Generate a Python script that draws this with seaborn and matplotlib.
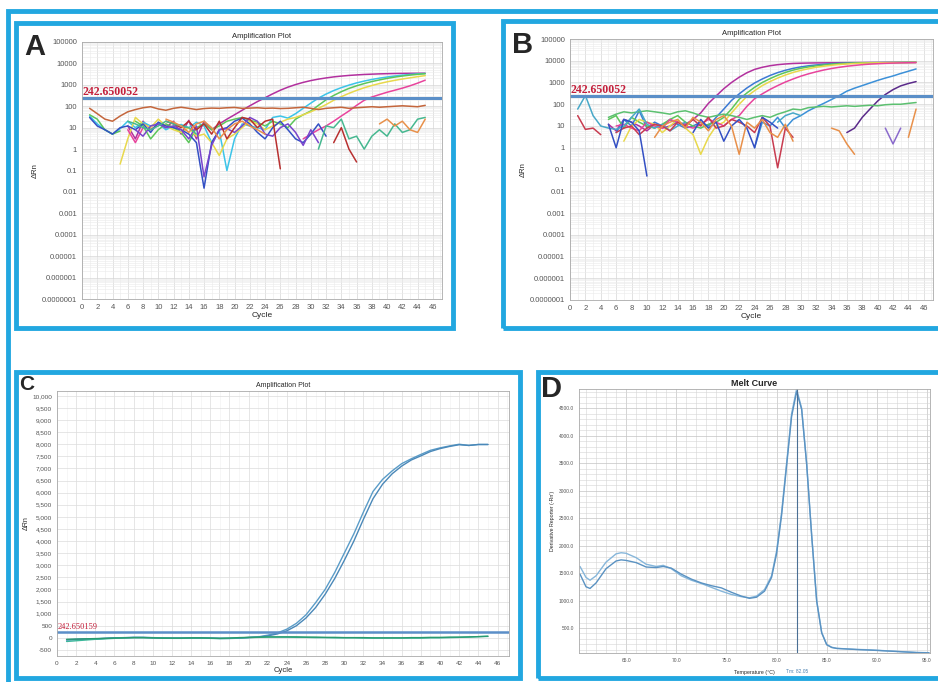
import numpy as np
import pandas as pd
import seaborn as sns
import matplotlib.pyplot as plt
from matplotlib.patches import Rectangle
from matplotlib.ticker import MultipleLocator, LogLocator, NullFormatter

nan = np.nan
W, H = 938, 682

# ---------------- data ----------------
cycles = list(range(1, 46))
x_ticks = list(range(0, 47, 2))
log_ticks = [1e-7, 1e-6, 1e-5, 1e-4, 1e-3, 1e-2, 1e-1, 1, 10, 100, 1000, 10000, 100000]
log_labels = ["0.0000001", "0.000001", "0.00001", "0.0001", "0.001", "0.01", "0.1",
              "1", "10", "100", "1000", "10000", "100000"]
threshold_ab = 242.650052
threshold_ab_label = "242.650052"
threshold_c = 242.650159
threshold_c_label = "242.650159"

# panel A, delta Rn per cycle (nan = not drawn on log axis)
A_magenta = [nan, nan, nan, nan, nan, 12, 3, 20, 8, 15, 10, 20, 5, 22, 3,
             20, 8, 15, 25, 40, 65, 105, 165, 250, 380, 560, 780, 1030, 1300, 1580,
             1850, 2100, 2350, 2560, 2750, 2900, 3050, 3150, 3250, 3320, 3380, 3420, 3450, 3470, 3480]
A_cyan = [35, 15, 8, 5, 9, 20, 10, 18, 12, 16, 8, 12, 14, 10, 18,
          12, 2, 7, 0.1, 3, 15, 12, 10, 8, 30, 35, 28, 45, 80, 140,
          240, 370, 540, 740, 970, 1230, 1500, 1780, 2050, 2320, 2580, 2820, 3050, 3250, 3400]
A_green = [40, 25, 8, 5, 7, nan, 20, 12, 3, 8, 15, 10, 6, 2, 10,
           15, 8, 12, 20, 25, 30, 22, 18, 12, 20, 15, 10, 25, 40, 60,
           110, 200, 320, 480, 680, 900, 1150, 1420, 1700, 2000, 2300, 2580, 2850, 3100, 3300]
A_yellow = [nan, nan, nan, nan, 0.2, 3, 30, 15, 10, 25, 12, 8, 6, 10, 4,
            5, 2, 0.5, 3, 5, 10, 20, 15, 8, 12, 18, 25, 30, 40, 55,
            80, 120, 190, 280, 400, 550, 730, 930, 1150, 1380, 1620, 1870, 2120, 2400, 2700]
A_pink = [nan, nan, nan, nan, nan, 8, 2, 10, nan, nan, nan, nan, nan, nan, nan,
          nan, nan, nan, nan, nan, nan, nan, nan, nan, nan, nan, nan, nan, 3, 5,
          8, 12, 20, 35, 60, 110, 190, 270, 350, 450, 560, 700, 900, 1200, 1650]
A_brown = [80, 45, 25, 20, 35, 55, 70, 85, 95, 75, 65, 80, 90, 80, 70,
           78, 82, 80, 85, 88, 80, 82, 85, 80, 82, 78, 80, 85, 90, 80,
           70, 80, 85, 90, 80, 85, 90, 95, 90, 95, 100, 105, 100, 95, 110]
A_blue = [30, 12, 8, 5, 10, 12, 8, 15, 6, 18, 12, 10, 8, 5, 2,
          0.015, 2, 8, 10, 20, 28, 15, 6, 3, 10, 20, 8, 3, 2, 5,
          15, 4, nan, nan, nan, nan, nan, nan, nan, nan, nan, nan, nan, nan, nan]
A_purple = [nan, nan, nan, nan, nan, nan, 8, 4, 12, 15, 10, 12, 8, 3, 12,
            0.05, 1.5, 8, 9, 6, 12, 30, 20, 5, 4, 10, 15, 6, 1.5, 8,
            2, nan, nan, nan, nan, nan, nan, nan, nan, nan, nan, nan, nan, nan, nan]
A_red = [nan, nan, nan, nan, nan, nan, nan, nan, nan, nan, 20, 15, 10, 20, 8,
         15, 5, 20, 3, 10, 30, 25, 10, 20, 25, 0.12, nan, nan, nan, nan,
         nan, nan, 2, 10, 1, 0.25, nan, nan, nan, nan, nan, nan, nan, nan, nan]
A_teal = [nan, nan, nan, nan, nan, 20, 15, 10, 8, 12, 20, 15, 12, 10, 5,
          nan, nan, nan, nan, nan, nan, nan, nan, nan, nan, nan, nan, nan, nan, nan,
          1, 12, 10, 25, 3, 4, 1, 4, 8, 4, 15, 6, 8, 25, 30]
A_orange = [nan, nan, nan, nan, nan, nan, nan, nan, nan, nan, 25, 18, 12, 6, 15,
            20, 10, 3, 8, 15, 20, 12, 8, 5, nan, nan, nan, nan, nan, nan,
            nan, nan, nan, nan, nan, nan, nan, nan, 15, 25, 12, 20, 8, 6, 25]

# panel B
B_magenta = [nan, nan, nan, nan, 12, 6, 20, 15, 10, 6, 12, 8, 10, 15, 12,
             20, 40, 110, 240, 520, 1000, 1750, 2800, 4000, 5000, 5900, 6600, 7100, 7500, 7700,
             7850, 7950, 8000, 8050, 8100, 8150, 8200, 8250, 8300, 8300, 8350, 8400, 8400, 8450, 8500]
B_blue = [nan, nan, nan, nan, nan, 5, 20, 10, 50, 8, 15, 10, 20, 12, 8,
          10, 15, 10, 25, 60, 150, 300, 560, 950, 1450, 2100, 2850, 3650, 4450, 5200,
          5850, 6400, 6900, 7300, 7600, 7850, 8000, 8100, 8150, 8200, 8250, 8300, 8350, 8400, 8450]
B_green = [nan, nan, nan, nan, 20, 30, 8, 25, 15, 10, 8, 12, 20, 30, 15,
           10, 8, 12, 15, 25, 60, 170, 330, 600, 1000, 1500, 2150, 2900, 3700, 4500,
           5200, 5800, 6400, 6900, 7300, 7600, 7850, 8000, 8100, 8200, 8250, 8300, 8350, 8400, 8450]
B_yellow = [nan, nan, nan, nan, nan, nan, 2, 10, 20, 15, 12, 5, 10, 20, 8,
            4, 0.5, 3, 10, 15, 40, 100, 230, 420, 720, 1100, 1600, 2200, 2900, 3600,
            4300, 5000, 5600, 6200, 6700, 7100, 7450, 7700, 7900, 8000, 8100, 8200, 8250, 8300, 8400]
B_pink = [nan, nan, nan, nan, nan, 10, 12, 8, 6, 15, 10, 8, 20, 15, 10,
          8, 12, 20, 15, 10, 20, 30, 80, 180, 300, 480, 720, 1050, 1450, 1950,
          2500, 3100, 3750, 4400, 5000, 5600, 6100, 6600, 7000, 7300, 7600, 7800, 8000, 8100, 8200]
B_late = [nan, nan, nan, nan, nan, nan, nan, nan, nan, nan, nan, nan, nan, nan, nan,
          nan, nan, nan, nan, nan, nan, nan, nan, 1, 15, 10, 25, 8, 20, 30,
          50, 75, 110, 165, 250, 400, 550, 720, 950, 1250, 1600, 2000, 2600, 3300, 4200]
B_purple = [nan, nan, nan, nan, nan, nan, nan, nan, nan, nan, nan, nan, nan, nan, nan,
            nan, nan, nan, nan, nan, nan, nan, nan, nan, nan, nan, nan, nan, nan, nan,
            nan, nan, nan, nan, nan, 5, 8, 25, 60, 140, 280, 470, 700, 900, 1100]
B_violet = [nan, nan, nan, nan, nan, nan, nan, nan, nan, nan, nan, nan, nan, nan, nan,
            nan, nan, nan, nan, nan, nan, nan, nan, nan, nan, nan, nan, nan, nan, nan,
            nan, nan, nan, nan, nan, nan, nan, nan, nan, nan, 8, 1.5, 8, nan, nan]
B_flat = [nan, nan, nan, nan, 25, 35, 45, 40, 45, 50, 45, 40, 35, 45, 50,
          40, 30, 25, 30, 35, 30, 25, 20, 25, 30, 25, 35, 45, 60, 55,
          70, 75, 80, 75, 80, 85, 80, 85, 90, 85, 95, 100, 100, 110, 120]
B_teal = [60, 250, 30, 10, 8, 7, 10, 25, 60, 12, 8, 12, 6, 10, 15,
          nan, nan, nan, nan, nan, nan, nan, nan, nan, nan, nan, 15, 30, 40, 30,
          nan, nan, nan, nan, nan, nan, nan, nan, nan, nan, nan, nan, nan, nan, nan]
B_red = [30, 7, 8, 4, nan, 5, 8, 10, 4, 8, 12, 10, 6, 15, 10,
         20, 10, 25, 8, 10, 20, 15, 10, 5, 25, 10, 0.12, 8, 3, nan,
         nan, nan, nan, nan, nan, nan, nan, nan, nan, nan, nan, nan, nan, nan, nan]
B_navy = [nan, nan, nan, nan, 12, 1, 20, 15, 6, 0.05, nan, nan, nan, nan, nan,
          5, 20, 8, 15, 2, 10, 20, 8, 1, 25, 15, 8, nan, nan, nan,
          nan, nan, nan, nan, nan, nan, nan, nan, nan, nan, nan, nan, nan, nan, nan]
B_orange = [nan, nan, nan, nan, nan, nan, nan, nan, nan, nan, 3, 10, 15, 20, 8,
            25, 15, 6, 20, 30, 10, 0.5, 15, 8, 20, 5, 3, 12, 2, nan,
            nan, nan, nan, 8, 6, 1.5, 0.5, nan, nan, nan, nan, 25, nan, 3, 60]

# panel C, linear delta Rn
c_ticks = list(range(-500, 10001, 500))
c_labels = [f"{v:,}" for v in c_ticks]
C_blue1 = [-80, -60, -50, -40, -20, 0, 10, 20, 20, 10, 0, -10, -10, -10, -5,
           -10, -20, -20, -10, 20, 40, 110, 200, 360, 600, 950, 1450, 2000, 2700, 3500,
           4300, 5200, 6050, 6550, 6900, 7200, 7400, 7580, 7750, 7850, 7930, 8000, 7950, 7990, 7990]
C_blue2 = [-90, -70, -55, -45, -25, -5, 5, 15, 15, 5, -5, -15, -15, -10, -10,
           -15, -25, -25, -15, 10, 30, 80, 160, 290, 500, 820, 1250, 1800, 2450, 3200,
           4000, 4900, 5750, 6350, 6780, 7100, 7350, 7520, 7700, 7820, 7910, 7980, 7950, 7990, 7990]
C_green1 = [-150, -120, -90, -60, -40, -20, 0, 10, 10, 0, -10, -20, -20, -10, -10,
            -20, -30, -20, 0, 10, 20, 30, 30, 30, 20, 20, 10, 10, 0, 0,
            0, -10, -10, -10, -10, -10, -10, -10, 0, 0, 10, 20, 30, 50, 70]
C_green2 = [-60, -50, -40, -30, -20, -10, 0, 10, 10, 0, -10, -10, -10, 0, 0,
            -10, -20, -10, 10, 20, 30, 40, 40, 40, 40, 30, 30, 20, 20, 10,
            10, 10, 0, 0, 0, 0, 10, 10, 20, 20, 30, 30, 40, 50, 60]

# panel D, melt curve
temps = [60.4, 61.0, 61.4, 62.0, 63.0, 64.0, 64.5, 65.0, 66.0, 67.0, 68.0, 68.7, 69.5, 70.5, 71.5,
         72.5, 73.5, 74.5, 75.5, 76.5, 77.3, 78.0, 78.8, 79.5, 80.0, 80.5, 81.0, 81.5, 82.0, 82.5,
         83.0, 83.5, 84.0, 84.5, 85.0, 85.5, 86.0, 87.0, 88.0, 89.0, 90.0, 91.0, 92.0, 93.0, 94.0, 95.2]
D_well1 = [1620, 1420, 1370, 1450, 1700, 1850, 1870, 1860, 1780, 1660, 1620, 1640, 1580, 1450, 1370,
           1310, 1240, 1170, 1110, 1070, 1050, 1080, 1200, 1450, 1900, 2600, 3500, 4400, 4850, 4500,
           3500, 2200, 1000, 420, 200, 150, 130, 120, 110, 105, 95, 85, 75, 65, 55, 50]
D_well2 = [1480, 1250, 1220, 1320, 1580, 1720, 1740, 1730, 1690, 1610, 1600, 1620, 1590, 1480, 1390,
           1320, 1270, 1230, 1150, 1080, 1040, 1060, 1170, 1420, 1850, 2550, 3450, 4350, 4800, 4480,
           3480, 2180, 990, 410, 195, 145, 128, 118, 108, 100, 92, 82, 72, 62, 52, 48]
d_xticks = [65, 70, 75, 80, 85, 90, 95]
d_xlabels = ["65.0", "70.0", "75.0", "80.0", "85.0", "90.0", "95.0"]
d_yticks = [500, 1000, 1500, 2000, 2500, 3000, 3500, 4000, 4500]
d_ylabels = ["500.0", "1000.0", "1500.0", "2000.0", "2500.0", "3000.0", "3500.0", "4000.0", "4500.0"]
tm = 82.05

A_series = {"magenta": A_magenta, "cyan": A_cyan, "green": A_green, "yellow": A_yellow,
            "pink": A_pink, "brown": A_brown, "blue": A_blue, "purple": A_purple,
            "red": A_red, "teal": A_teal, "orange": A_orange}
B_series = {"magenta": B_magenta, "blue": B_blue, "green": B_green, "yellow": B_yellow,
            "pink": B_pink, "late": B_late, "purple": B_purple, "violet": B_violet,
            "flat": B_flat, "teal": B_teal, "red": B_red, "navy": B_navy, "orange": B_orange}
C_series = {"blue1": C_blue1, "blue2": C_blue2, "green1": C_green1, "green2": C_green2}
D_series = {"well1": D_well1, "well2": D_well2}

for d, xs in [(A_series, cycles), (B_series, cycles), (C_series, cycles), (D_series, temps)]:
    for k, v in d.items():
        assert len(v) == len(xs), (k, len(v))

# ---------------- style ----------------
A_colors = {"magenta": "#b2309e", "cyan": "#3cc4e8", "green": "#5cc65a", "yellow": "#e8d84c",
            "pink": "#e8449c", "brown": "#c4663c", "blue": "#3450c4", "purple": "#7a44cc",
            "red": "#b83030", "teal": "#46b890", "orange": "#e8904a"}
B_colors = {"magenta": "#b2309e", "blue": "#3c7ad4", "green": "#5cc65a", "yellow": "#e8d84c",
            "pink": "#e8449c", "late": "#3c90d8", "purple": "#5a2a8a", "violet": "#8a6acc",
            "flat": "#5cc070", "teal": "#48a8c8", "red": "#c83c50", "navy": "#3450c4",
            "orange": "#e8904a"}
C_colors = {"blue1": "#5a9cc8", "blue2": "#4a88b8", "green1": "#3cb89a", "green2": "#2a9a70"}
D_colors = {"well1": "#86b6da", "well2": "#5a92c2"}
FRAME = "#22a7e0"

sns.set_style("white")
plt.rcParams["font.family"] = ["Liberation Sans", "DejaVu Sans"]

fig = plt.figure(figsize=(W / 100, H / 100), dpi=100)
fig.patch.set_facecolor("white")


def box(l, t, r, b):
    return [l / W, 1 - b / H, (r - l) / W, (b - t) / H]


def long_form(xs, series):
    # split each series at nan so gaps stay open
    rows = []
    for name, vals in series.items():
        seg, gap = 0, True
        for x, v in zip(xs, vals):
            if np.isnan(v):
                gap = True
                continue
            if gap:
                seg += 1
                gap = False
            rows.append((name, f"{name}-{seg}", x, v))
    return pd.DataFrame(rows, columns=["series", "unit", "x", "y"])


def base_style(ax, fs=5.5):
    ax.tick_params(which="major", labelsize=fs, colors="#555", length=2, width=0.5, pad=1.5)
    ax.tick_params(which="minor", length=0)
    for s in ax.spines.values():
        s.set_color("#aaa")
        s.set_linewidth(0.6)


def amp_log(ax, series, colors):
    df = long_form(cycles, series)
    sns.lineplot(data=df, x="x", y="y", hue="series", units="unit", estimator=None,
                 palette=colors, lw=1.1, legend=False, ax=ax, sort=False)
    ax.set_yscale("log")
    ax.set_ylim(1e-7, 1e5)
    ax.set_xlim(0, 47.2)
    ax.set_xticks(x_ticks)
    ax.set_yticks(log_ticks, labels=log_labels)
    ax.xaxis.set_minor_locator(MultipleLocator(1))
    ax.yaxis.set_minor_locator(LogLocator(base=10, subs=np.arange(2, 10), numticks=50))
    ax.yaxis.set_minor_formatter(NullFormatter())
    ax.grid(which="major", color="#d6d6d6", lw=0.5)
    ax.grid(which="minor", color="#ebebeb", lw=0.4)
    base_style(ax)
    ax.axhline(threshold_ab, color="#5b8fc8", lw=2.2)
    ax.text(0.1, threshold_ab * 0.95, threshold_ab_label, color="#c41e3a", fontsize=8.5,
            fontweight="bold", family="Liberation Serif", va="bottom", ha="left")
    ax.set_title("Amplification Plot", fontsize=5.5, pad=3)
    ax.set_xlabel("Cycle", fontsize=6, labelpad=1)
    ax.set_ylabel("ΔRn", fontsize=5.5, labelpad=2)


# panel A and B
axA = fig.add_axes(box(82, 42, 442, 299))
amp_log(axA, A_series, A_colors)
axB = fig.add_axes(box(570, 39, 933, 300))
amp_log(axB, B_series, B_colors)

# panel C
axC = fig.add_axes(box(57, 391, 509, 656))
dfC = long_form(cycles, C_series)
sns.lineplot(data=dfC, x="x", y="y", hue="series", units="unit", estimator=None,
             palette=C_colors, lw=1.0, legend=False, ax=axC, sort=False)
axC.set_xlim(0, 47.2)
axC.set_ylim(-750, 10200)
axC.set_xticks(x_ticks)
axC.set_yticks(c_ticks, labels=c_labels)
axC.xaxis.set_minor_locator(MultipleLocator(1))
axC.grid(which="major", color="#dcdcdc", lw=0.5)
axC.grid(which="minor", axis="x", color="#efefef", lw=0.4)
base_style(axC, fs=4.6)
axC.axhline(threshold_c, color="#5b8fc8", lw=1.8)
axC.text(0.1, threshold_c + 20, threshold_c_label, color="#c41e3a", fontsize=6,
         family="Liberation Serif", va="bottom", ha="left")
axC.set_title("Amplification Plot", fontsize=5, pad=3)
axC.set_xlabel("Cycle", fontsize=5.5, labelpad=1)
axC.set_ylabel("ΔRn", fontsize=5, labelpad=2)

# panel D
axD = fig.add_axes(box(579, 389, 930, 653))
dfD = long_form(temps, D_series)
sns.lineplot(data=dfD, x="x", y="y", hue="series", units="unit", estimator=None,
             palette=D_colors, lw=1.0, legend=False, ax=axD, sort=False)
axD.set_xlim(60.3, 95.3)
axD.set_ylim(45, 4850)
axD.set_xticks(d_xticks, labels=d_xlabels)
axD.set_yticks(d_yticks, labels=d_ylabels)
axD.xaxis.set_minor_locator(MultipleLocator(1))
axD.yaxis.set_minor_locator(MultipleLocator(100))
axD.grid(which="major", color="#c4c4c4", lw=0.5)
axD.grid(which="minor", color="#d4d4d4", lw=0.4)
base_style(axD, fs=3.5)
axD.axvline(tm, color="#4a6f95", lw=0.8)
axD.text(tm, -0.06, f"Tm: {tm}", transform=axD.get_xaxis_transform(), fontsize=3.5,
         color="#4a80b0", ha="center", va="top")
axD.set_title("Melt Curve", fontsize=6.5, fontweight="bold", pad=2)
axD.set_xlabel("Temperature (°C)", fontsize=3.8, labelpad=5)
axD.set_ylabel("Derivative Reporter (-Rn')", fontsize=3.8, labelpad=3)

# blue panel frames
fig.add_artist(Rectangle((8 / W, 1 - 700 / H), 950 / W, 689 / H, transform=fig.transFigure,
                         fill=False, ec=FRAME, lw=3.5))
for l, t, r, b in [(16, 23, 453, 328), (503, 21, 948, 328), (16, 372, 520, 678), (538, 372, 948, 678)]:
    fig.add_artist(Rectangle((l / W, 1 - b / H), (r - l) / W, (b - t) / H,
                             transform=fig.transFigure, fill=False, ec=FRAME, lw=3.5))

# panel letters
for letter, x, y, va, fs in [("A", 24, 47, "center", 21), ("B", 512, 45, "center", 21),
                             ("C", 19, 375, "top", 15), ("D", 541, 389, "center", 21)]:
    fig.text(x / W, 1 - y / H, letter, fontsize=fs, fontweight="bold", va=va, ha="left")

fig.savefig("out.png", dpi=100)
